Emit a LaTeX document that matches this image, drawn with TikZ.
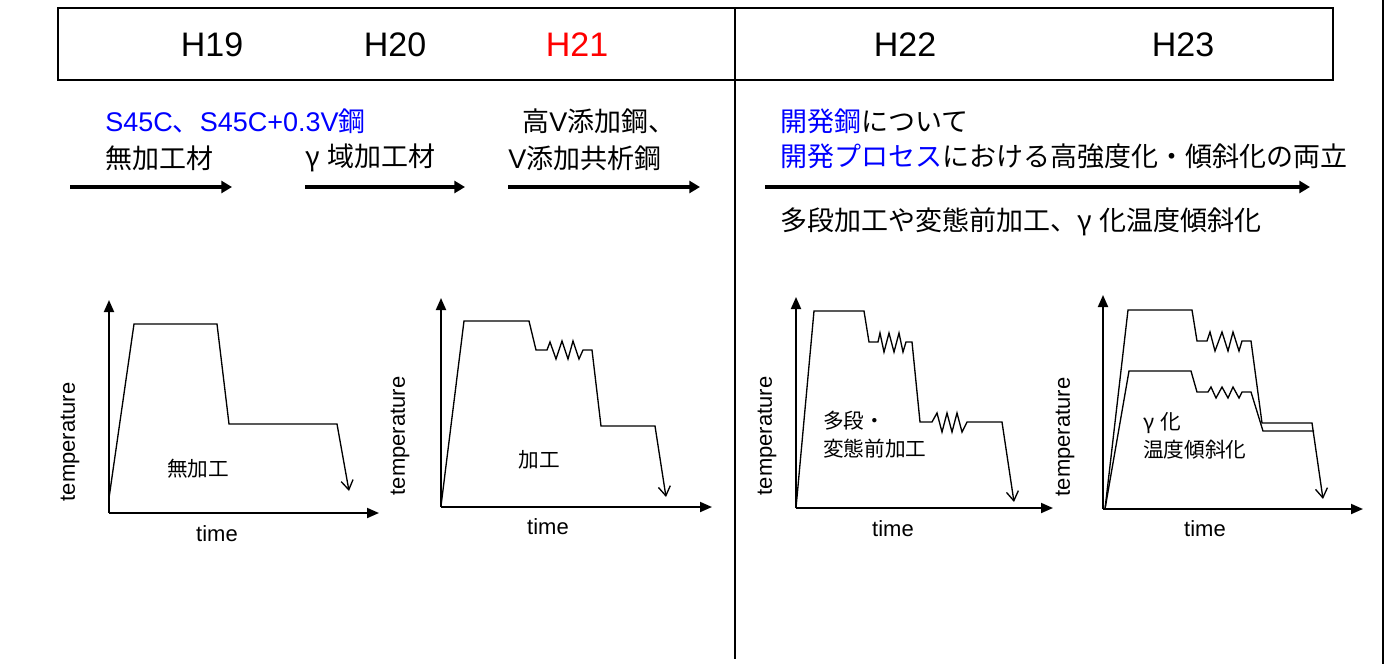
\documentclass[tikz,border=0pt]{standalone}
\usepackage{fontspec}
\setmainfont{Liberation Sans}
\newfontfamily\cjk{Noto Sans CJK JP}
\newcommand{\jpn}[1]{{\cjk #1}}
\newcommand{\gam}{γ\hspace{0.3em}}
\usetikzlibrary{arrows.meta}
\begin{document}
\begin{tikzpicture}[x=0.75pt,y=-0.75pt,
  yr/.style={font=\fontsize{25.5}{30}\selectfont, inner sep=0pt},
  lbl/.style={font=\fontsize{20.25}{24}\selectfont, anchor=west, inner sep=0pt},
  bigarrow/.style={line width=3pt, -{Triangle[length=8pt,width=9pt]}},
  axis/.style={line width=1.4pt, -{Triangle[length=9pt,width=7.5pt]}},
  curve/.style={line width=1pt, line join=miter},
  curvearr/.style={curve, -{Straight Barb[length=7pt,width=9pt]}},
  axlbl/.style={font=\fontsize{16.5}{20}\selectfont, inner sep=0pt},
  plbl/.style={font=\cjk\fontsize{15.5}{18}\selectfont, inner sep=0pt},
]
\useasboundingbox (0,0) rectangle (1386,664);

% header
\draw[line width=1pt] (58,8) rectangle (1333,80);
\draw[line width=1pt] (735,8) -- (735,659);
\draw[line width=1.2pt] (1383,0) -- (1383,664);

\node[yr] (h19) at (212,45) {H19};
\node[yr] (h20) at (395,45) {H20};
\node[yr,red] (h21) at (577,45) {H21};
\node[yr] (h22) at (905,45) {H22};
\node[yr] (h23) at (1183,45) {H23};

% row texts
\node[lbl,blue] (t1) at (105,121) {S45C\jpn{、}S45C+0.3V\jpn{鋼}};
\node[lbl] (t2) at (105,158) {\jpn{無加工材}};
\node[lbl] (t3) at (305,158) {\jpn{\gam 域加工材}};
\node[lbl] (t4) at (522,121) {\jpn{高}V\jpn{添加鋼、}};
\node[lbl] (t5) at (508,158) {V\jpn{添加共析鋼}};
\node[lbl] (t6) at (780,121) {\jpn{\textcolor{blue}{開発鋼}について}};
\node[lbl] (t7) at (780,156) {\jpn{\textcolor{blue}{開発プロセス}における高強度化・傾斜化の両立}};
\node[lbl] (t8) at (780,222) {\jpn{多段加工や変態前加工、\gam 化温度傾斜化}};

% big arrows
\coordinate (a1s) at (70,187);  \coordinate (a1e) at (232,187);
\coordinate (a2s) at (305,187); \coordinate (a2e) at (465,187);
\coordinate (a3s) at (508,187); \coordinate (a3e) at (700,187);
\coordinate (a4s) at (765,187); \coordinate (a4e) at (1310,187);
\draw[bigarrow] (a1s) -- (a1e);
\draw[bigarrow] (a2s) -- (a2e);
\draw[bigarrow] (a3s) -- (a3e);
\draw[bigarrow] (a4s) -- (a4e);

% ---- plot 1
\coordinate (o1) at (109,513);
\draw[axis] (o1) -- (109,300);
\draw[axis] (o1) -- (379,513);
\draw[curvearr] (109,498) -- (134,324) -- (217,324) -- (229,424) -- (337,424) -- (349,491);
\node[axlbl,rotate=90] (temp1) at (70,442) {temperature};
\node[axlbl] (time1) at (217,534) {time};
\node[plbl] (p1) at (198,469) {無加工};

% ---- plot 2
\coordinate (o2) at (441,507);
\draw[axis] (o2) -- (441,298);
\draw[axis] (o2) -- (712,507);
\draw[curvearr] (441,506) -- (464,321) -- (529,321) -- (536,350) -- (547,350)
  -- (550,342) -- (556,359) -- (562,341) -- (568,359) -- (573,341) -- (579,359) -- (583,350)
  -- (592,350) -- (601,426) -- (655,426) -- (666,497);
\node[axlbl,rotate=90] (temp2) at (400,436) {temperature};
\node[axlbl] (time2) at (548,527) {time};
\node[plbl] (p2) at (539,460) {加工};

% ---- plot 3
\coordinate (o3) at (796,508);
\draw[axis] (o3) -- (796,297);
\draw[axis] (o3) -- (1053,508);
\draw[curvearr] (796,508) -- (814,311) -- (864,311) -- (869,342) -- (878,342)
  -- (880,333) -- (884,352) -- (889,333) -- (894,352) -- (899,333) -- (903,352) -- (906,342)
  -- (912,342) -- (920,422) -- (932,422)
  -- (937,413) -- (942,432) -- (947,413) -- (952,432) -- (957,413) -- (962,432) -- (967,422)
  -- (1002,422) -- (1014,502);
\node[axlbl,rotate=90] (temp3) at (767,436) {temperature};
\node[axlbl] (time3) at (893,529) {time};
\node[plbl,anchor=west] (p3a) at (823,421) {多段・};
\node[plbl,anchor=west] (p3b) at (823,449) {変態前加工};

% ---- plot 4
\coordinate (o4) at (1103,509);
\draw[axis] (o4) -- (1103,295);
\draw[axis] (o4) -- (1363,509);
\draw[curvearr] (1105,509) -- (1128,310) -- (1192,310) -- (1197,341) -- (1207,341)
  -- (1210,332) -- (1215,351) -- (1222,332) -- (1228,351) -- (1233,332) -- (1239,351) -- (1242,341)
  -- (1251,341) -- (1262,423) -- (1312,423) -- (1323,499);
\draw[curve] (1105,509) -- (1129,371) -- (1191,371) -- (1197,392) -- (1208,392)
  -- (1211,387) -- (1216,398) -- (1222,387) -- (1228,398) -- (1233,387) -- (1239,398) -- (1242,392)
  -- (1251,392) -- (1263,431) -- (1314,431);
\node[axlbl,rotate=90] (temp4) at (1065,437) {temperature};
\node[axlbl] (time4) at (1205,529) {time};
\node[plbl,anchor=west] (p4a) at (1143,423) {\gam 化};
\node[plbl,anchor=west] (p4b) at (1143,450) {温度傾斜化};
\end{tikzpicture}
\end{document}
